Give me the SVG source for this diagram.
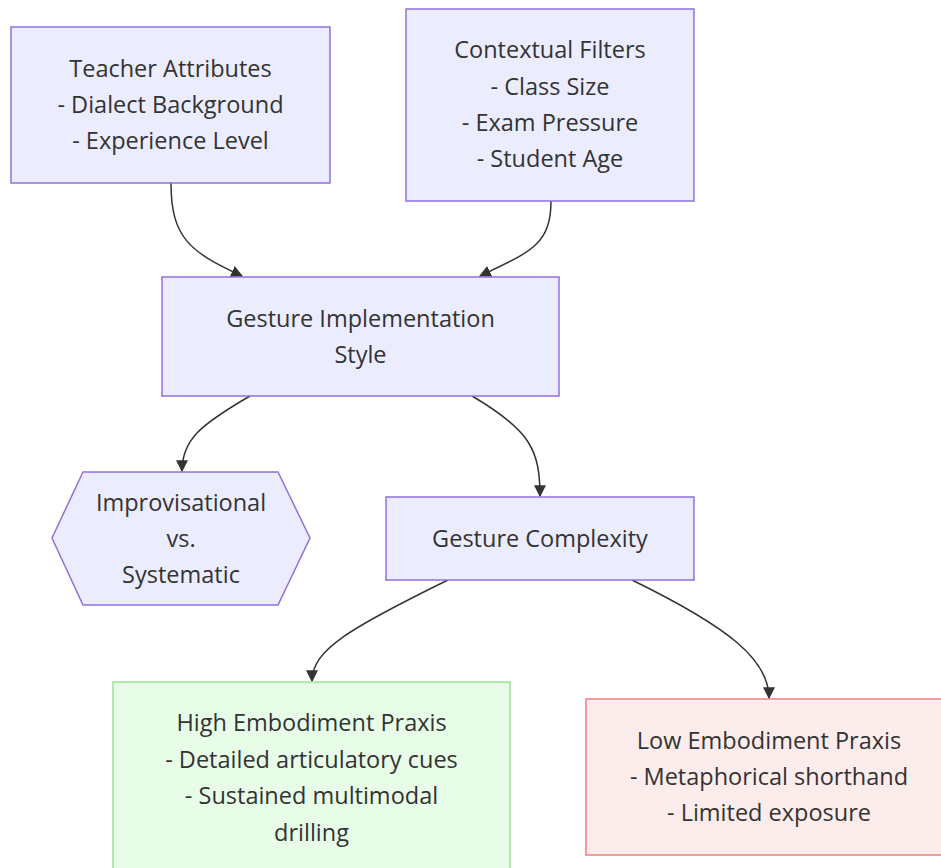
<svg xmlns="http://www.w3.org/2000/svg" width="941" height="868" viewBox="0 0 941 868">
  <style>
    .node rect, .node polygon { fill: #ECECFF; stroke: #9370DB; stroke-width: 1.5; }
    .node.high rect { fill: #E8FDE8; stroke: #98E598; }
    .node.low rect { fill: #FDECEC; stroke: #EE7F82; }
    .node text { font-family: "Open Sans", "DejaVu Sans", sans-serif; font-size: 23.5px; fill: #333333; text-anchor: middle; }
    .edge { fill: none; stroke: #333333; stroke-width: 1.5; marker-end: url(#arrow); }
  </style>
  <defs>
    <marker id="arrow" viewBox="0 0 10 10" refX="9" refY="5" markerWidth="12" markerHeight="12" markerUnits="userSpaceOnUse" orient="auto">
      <path d="M0,0 L10,5 L0,10 Z" fill="#333333"/>
    </marker>
  </defs>
  <rect width="941" height="868" fill="#ffffff"/>

  <g id="connectors">
    <path class="edge" d="M171,183 C171,238 190,252 242,276"/>
    <path class="edge" d="M551,201 C551,245 530,252 480,276"/>
    <path class="edge" d="M250,396 C200,425 182,440 182,471"/>
    <path class="edge" d="M472,396 C530,430 540,450 540,496"/>
    <path class="edge" d="M448,580 C350,628 312,650 312,681"/>
    <path class="edge" d="M632,580 C730,628 769,660 769,698"/>
  </g>

  <g id="teacher" class="node">
    <rect x="11" y="27" width="319" height="156"/>
    <text x="170.5" y="77">Teacher Attributes</text>
    <text x="170.5" y="113">- Dialect Background</text>
    <text x="170.5" y="149">- Experience Level</text>
  </g>

  <g id="context" class="node">
    <rect x="406" y="9" width="288" height="192"/>
    <text x="550" y="58">Contextual Filters</text>
    <text x="550" y="95">- Class Size</text>
    <text x="550" y="131">- Exam Pressure</text>
    <text x="550" y="167">- Student Age</text>
  </g>

  <g id="style" class="node">
    <rect x="162" y="277" width="397" height="119"/>
    <text x="360.5" y="327">Gesture Implementation</text>
    <text x="360.5" y="363">Style</text>
  </g>

  <g id="improv" class="node">
    <polygon points="52,538 83,472 278,472 310,538 278,605 83,605"/>
    <text x="181" y="511">Improvisational</text>
    <text x="181" y="547">vs.</text>
    <text x="181" y="583">Systematic</text>
  </g>

  <g id="complexity" class="node">
    <rect x="386" y="497" width="308" height="83"/>
    <text x="540" y="547">Gesture Complexity</text>
  </g>

  <g id="high" class="node high">
    <rect x="113" y="682" width="397" height="220"/>
    <text x="311.5" y="731">High Embodiment Praxis</text>
    <text x="311.5" y="768">- Detailed articulatory cues</text>
    <text x="311.5" y="804">- Sustained multimodal</text>
    <text x="311.5" y="841">drilling</text>
  </g>

  <g id="low" class="node low">
    <rect x="586" y="699" width="366" height="156"/>
    <text x="769" y="749">Low Embodiment Praxis</text>
    <text x="769" y="785">- Metaphorical shorthand</text>
    <text x="769" y="821">- Limited exposure</text>
  </g>
</svg>
